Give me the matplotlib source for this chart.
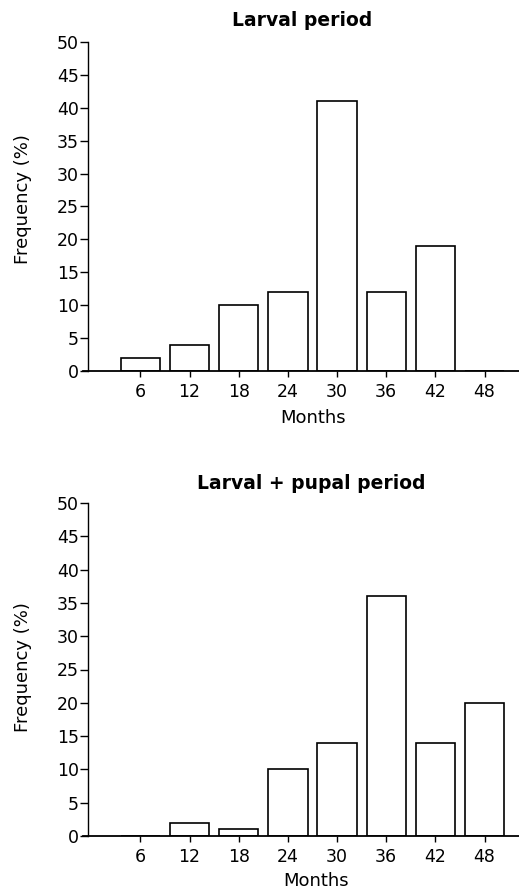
import matplotlib
matplotlib.use("Agg")
import matplotlib.pyplot as plt

months = [6, 12, 18, 24, 30, 36, 42, 48]
tick_labels = ["6", "12", "18", "24", "30", "36", "42", "48"]
larval = [2, 4, 10, 12, 41, 12, 19, 0]
larval_pupal = [0, 2, 1, 10, 14, 36, 14, 20]
yticks = [0, 5, 10, 15, 20, 25, 30, 35, 40, 45, 50]

plt.rcParams['font.family'] = ['DejaVu Sans']

fig = plt.figure(figsize=(5.19, 8.89), dpi=100)
W, H = 519, 889

def make_ax(top_px, bottom_px):
    left = 83 / W
    return fig.add_axes([left, 1 - bottom_px / H, 1 - left, (bottom_px - top_px) / H])

panels = [
    (make_ax(42, 371), larval, "Larval period", 0.503, 11.5,
     (-0.116, 0.524), (0.528, -0.115)),
    (make_ax(503, 836), larval_pupal, "Larval + pupal period", 0.5245, 10,
     (-0.116, 0.507), (0.534, -0.108)),
]

for ax, vals, title, tx, tpad, ylc, xlc in panels:
    ax.bar(months, vals, width=4.8, facecolor="white", edgecolor="black", linewidth=1.2)
    ax.set_xlim(-1.0, 52.2)
    ax.set_ylim(0, 50)
    ax.spines['left'].set_position(('data', -0.4))
    ax.spines['top'].set_visible(False)
    ax.spines['right'].set_visible(False)
    ax.spines['left'].set_linewidth(1.0)
    ax.spines['bottom'].set_linewidth(1.3)
    ax.set_yticks(yticks)
    ax.set_xticks(months)
    ax.set_xticklabels(tick_labels)
    ax.tick_params(axis='y', direction='out', length=5.5, width=1.0, labelsize=12.5, pad=1)
    ax.tick_params(axis='x', direction='out', length=4, width=1.0, labelsize=12.5, pad=5)
    ax.set_ylabel("Frequency (%)", fontsize=13)
    ax.yaxis.set_label_coords(*ylc)
    ax.set_xlabel("Months", fontsize=13)
    ax.xaxis.set_label_coords(*xlc)
    ax.set_title(title, fontsize=13.5, fontweight='bold', pad=tpad, x=tx)

fig.savefig("out.png", dpi=100)
